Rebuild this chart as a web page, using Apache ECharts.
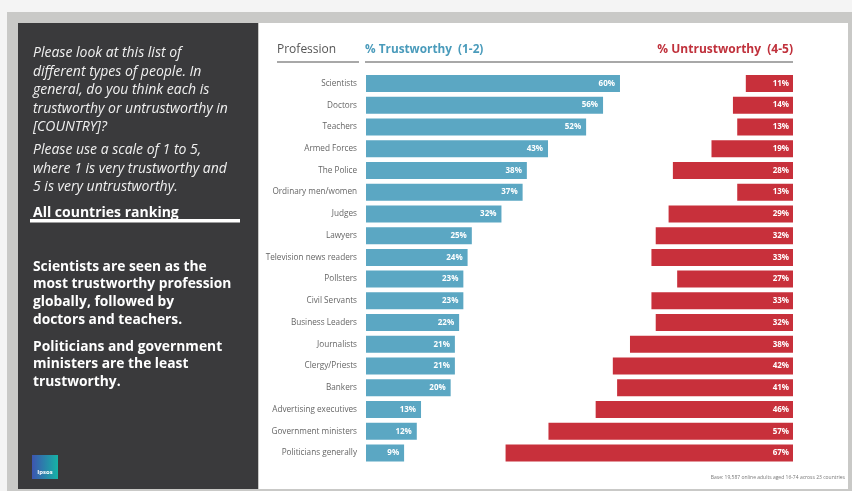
<!DOCTYPE html>
<html><head><meta charset="utf-8">
<script src="https://cdn.jsdelivr.net/npm/echarts@6/dist/echarts.min.js"></script>
<style>html,body{margin:0;padding:0;background:#f4f4f4;}#c{width:852px;height:491px;}</style>
</head><body><div id="c"></div>
<script>
const categories = ['Scientists','Doctors','Teachers','Armed Forces','The Police','Ordinary men/women','Judges','Lawyers','Television news readers','Pollsters','Civil Servants','Business Leaders','Journalists','Clergy/Priests','Bankers','Advertising executives','Government ministers','Politicians generally'];
const trustworthy = [60,56,52,43,38,37,32,25,24,23,23,22,21,21,20,13,12,9];
const untrustworthy = [11,14,13,19,28,13,29,32,33,27,33,32,38,42,41,46,57,67];
const headers = ['Profession','% Trustworthy  (1-2)','% Untrustworthy  (4-5)'];
const questionText = 'Please look at this list of\ndifferent types of people. In\ngeneral, do you think each is\ntrustworthy or untrustworthy in\n[COUNTRY]?';
const scaleText = 'Please use a scale of 1 to 5,\nwhere 1 is very trustworthy and\n5 is very untrustworthy.';
const rankingText = 'All countries ranking';
const finding1 = 'Scientists are seen as the\nmost trustworthy profession\nglobally, followed by\ndoctors and teachers.';
const finding2 = 'Politicians and government\nministers are the least\ntrustworthy.';
const baseNote = 'Base: 19,587 online adults aged 16-74 across 23 countries';

const FF = '"Open Sans", "Noto Sans", sans-serif';
const BLUE = '#5ba7c3', RED = '#c8303b';
const chart = echarts.init(document.getElementById('c'), null, {renderer:'canvas'});
const gTop = 72.6, gH = 391.3, gW = 423.3, gW2 = 429;
const labelStyle = {show:true, position:'insideRight', distance:5, color:'#fff', fontSize:8, fontWeight:'bold', fontFamily:FF, formatter:p=>p.value+'%'};
chart.setOption({
  backgroundColor:'#f4f4f4',
  animation:false,
  graphic:[
    {type:'rect', shape:{x:7,y:12,width:845,height:479}, style:{fill:'#c9c9c7'}, z:-10},
    {type:'rect', shape:{x:18,y:23,width:240,height:466}, style:{fill:'#3a3a3c'}, z:-9},
    {type:'rect', shape:{x:259,y:23,width:589,height:466}, style:{fill:'#ffffff'}, z:-9},
    {type:'text', x:33, y:43.8, style:{text:questionText, fill:'#f0f0f0', fontSize:14, fontStyle:'italic', fontFamily:FF, lineHeight:18.5, verticalAlign:'top'}},
    {type:'text', x:33, y:140.8, style:{text:scaleText, fill:'#f0f0f0', fontSize:14, fontStyle:'italic', fontFamily:FF, lineHeight:18.5, verticalAlign:'top'}},
    {type:'text', x:33, y:213, style:{text:rankingText, fill:'#ffffff', fontSize:14, fontWeight:'bold', fontFamily:FF, verticalAlign:'middle'}},
    {type:'rect', shape:{x:30,y:219,width:210,height:3.5}, style:{fill:'#ffffff'}},
    {type:'text', x:33, y:258, style:{text:finding1, fill:'#ffffff', fontSize:13.8, fontWeight:'bold', fontFamily:FF, lineHeight:17.7, verticalAlign:'top'}},
    {type:'text', x:33, y:338, style:{text:finding2, fill:'#ffffff', fontSize:13.8, fontWeight:'bold', fontFamily:FF, lineHeight:17.7, verticalAlign:'top'}},
    {type:'rect', shape:{x:32,y:455,width:26,height:24}, style:{fill:new echarts.graphic.LinearGradient(0,0,1,0,[{offset:0,color:'#3d55b0'},{offset:1,color:'#16b3a5'}])}},
    {type:'text', x:45, y:472, style:{text:'Ipsos', fill:'#ffffff', fontSize:6, fontWeight:'bold', fontFamily:FF, align:'center', verticalAlign:'middle'}},
    {type:'text', x:277, y:50, style:{text:headers[0], fill:'#555555', fontSize:12, fontFamily:FF, verticalAlign:'middle'}},
    {type:'text', x:365, y:50, style:{text:headers[1], fill:'#4a9bbb', fontSize:11.8, fontWeight:'bold', fontFamily:FF, verticalAlign:'middle'}},
    {type:'text', x:793, y:50, style:{text:headers[2], fill:'#c0313c', fontSize:12, fontWeight:'bold', fontFamily:FF, align:'right', verticalAlign:'middle'}},
    {type:'line', shape:{x1:277,y1:62,x2:359,y2:62}, style:{stroke:'#a8a8a8', lineWidth:2}},
    {type:'line', shape:{x1:365,y1:62,x2:793,y2:62}, style:{stroke:'#a8a8a8', lineWidth:2}},
    {type:'text', x:845, y:478, style:{text:baseNote, fill:'#777777', fontSize:5, fontFamily:FF, align:'right', verticalAlign:'middle'}}
  ],
  grid:[
    {left:366, top:gTop, width:gW, height:gH},
    {left:793-gW2, top:gTop, width:gW2, height:gH}
  ],
  xAxis:[
    {gridIndex:0, type:'value', min:0, max:100, show:false},
    {gridIndex:1, type:'value', min:0, max:100, inverse:true, show:false}
  ],
  yAxis:[
    {gridIndex:0, type:'category', data:categories, inverse:true, axisLine:{show:false}, axisTick:{show:false},
     axisLabel:{color:'#666666', fontSize:8.2, fontFamily:FF, margin:9}},
    {gridIndex:1, type:'category', data:categories, inverse:true, show:false}
  ],
  series:[
    {type:'bar', xAxisIndex:0, yAxisIndex:0, data:trustworthy, barWidth:17, itemStyle:{color:BLUE}, label:labelStyle},
    {type:'bar', xAxisIndex:1, yAxisIndex:1, data:untrustworthy, barWidth:17, itemStyle:{color:RED}, label:Object.assign({}, labelStyle, {distance:4})}
  ]
});
</script></body></html>
